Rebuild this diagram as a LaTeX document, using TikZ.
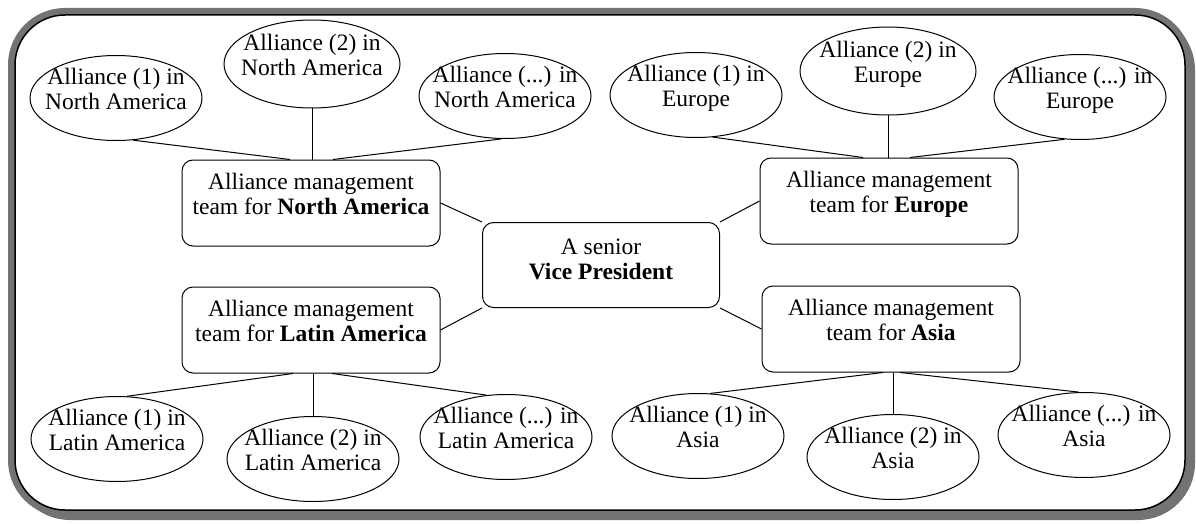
\documentclass[tikz,border=0pt]{standalone}
\usepackage{fontspec}
\setmainfont{Liberation Serif}
\usetikzlibrary{shapes.geometric}
% two centred lines whose box takes no room, so the shape keeps its set size
\newcommand{\twolines}[3][0pt]{\raisebox{#1}[0pt][0pt]{\makebox[0pt]{\begin{tabular}{@{}c@{}}#2\\#3\end{tabular}}}}

\begin{document}
\begin{tikzpicture}[x=1pt,y=-1pt,
  every node/.style={font=\fontsize{23.5}{25}\selectfont, inner sep=0pt},
  alliance/.style={ellipse, draw, line width=1pt, minimum width=172pt, minimum height=85pt},
  team/.style={rectangle, rounded corners=11pt, draw, line width=1pt, minimum width=258pt, minimum height=86pt},
  vp/.style={team, minimum width=237pt, minimum height=85pt},
  link/.style={line width=1pt},
  band/.style={draw=black!55, line width=7pt, rounded corners=53.5pt}]

\useasboundingbox (0,0) rectangle (1196,524);
\fill[white] (0,0) rectangle (1196,524);

% outer frame: shadowed grey band with a black inner edge
\draw[band] (16.5,16.5) rectangle (1191.5,516.5);
\draw[band] (11.5,11.5) rectangle (1188.5,513.5);
\fill[white, rounded corners=50pt] (15,15) rectangle (1185,510);
\draw[line width=1.5pt, rounded corners=50pt] (15,15) rectangle (1185,510);

% central node
\node[vp] (vp) at (601,265) {\twolines[-3pt]{A senior}{\textbf{Vice President}}};

% regional teams
\node[team] (na) at (311,203) {\twolines{Alliance management}{team for \textbf{North America}}};
\node[team] (eu) at (889,201) {\twolines{Alliance management}{team for \textbf{Europe}}};
\node[team] (la) at (311,330) {\twolines{Alliance management}{team for \textbf{Latin America}}};
\node[team] (as) at (891,329) {\twolines{Alliance management}{team for \textbf{Asia}}};

% alliances per region
\node[alliance] (na1) at (116,98)  {\twolines{Alliance (1) in}{North America}};
\node[alliance, minimum width=176pt, minimum height=88pt] (na2) at (312,64) {\twolines{Alliance (2) in}{North America}};
\node[alliance] (na3) at (505,96)  {\twolines{Alliance (...) in}{North America}};

\node[alliance] (eu1) at (696,95)  {\twolines{Alliance (1) in}{Europe}};
\node[alliance, minimum width=176pt, minimum height=88pt] (eu2) at (888,71) {\twolines{Alliance (2) in}{Europe}};
\node[alliance] (eu3) at (1080,97) {\twolines{Alliance (...) in}{Europe}};

\node[alliance] (la1) at (117,439) {\twolines{Alliance (1) in}{Latin America}};
\node[alliance] (la2) at (313,459) {\twolines{Alliance (2) in}{Latin America}};
\node[alliance] (la3) at (506,437) {\twolines{Alliance (...) in}{Latin America}};

\node[alliance] (as1) at (698,436) {\twolines{Alliance (1) in}{Asia}};
\node[alliance] (as2) at (893,457) {\twolines{Alliance (2) in}{Asia}};
\node[alliance] (as3) at (1084,435) {\twolines{Alliance (...) in}{Asia}};

% vice president to teams
\draw[link] (na.east) -- (vp.north west);
\draw[link] (vp.north east) -- (eu.west);
\draw[link] (la.east) -- (vp.south west);
\draw[link] (vp.south east) -- (as.west);

% teams to their alliances
\draw[link] (na1.-68) -- ([xshift=-21pt]na.north);
\draw[link] (na2.south) -- (na2.south |- na.north);
\draw[link] (na3.-95) -- ([xshift=22pt]na.north);

\draw[link] (eu1.-68) -- ([xshift=-26pt]eu.north);
\draw[link] (eu2.south) -- (eu2.south |- eu.north);
\draw[link] (eu3.-110) -- ([xshift=21pt]eu.north);

\draw[link] ([xshift=-18pt]la.south) -- (la1.77);
\draw[link] (la2.north |- la.south) -- (la2.north);
\draw[link] ([xshift=21pt]la.south) -- (la3.115);

\draw[link] ([xshift=-8pt]as.south) -- (as1.74);
\draw[link] (as2.north |- as.south) -- (as2.north);
\draw[link] ([xshift=9pt]as.south) -- (as3.97);
\end{tikzpicture}
\end{document}
